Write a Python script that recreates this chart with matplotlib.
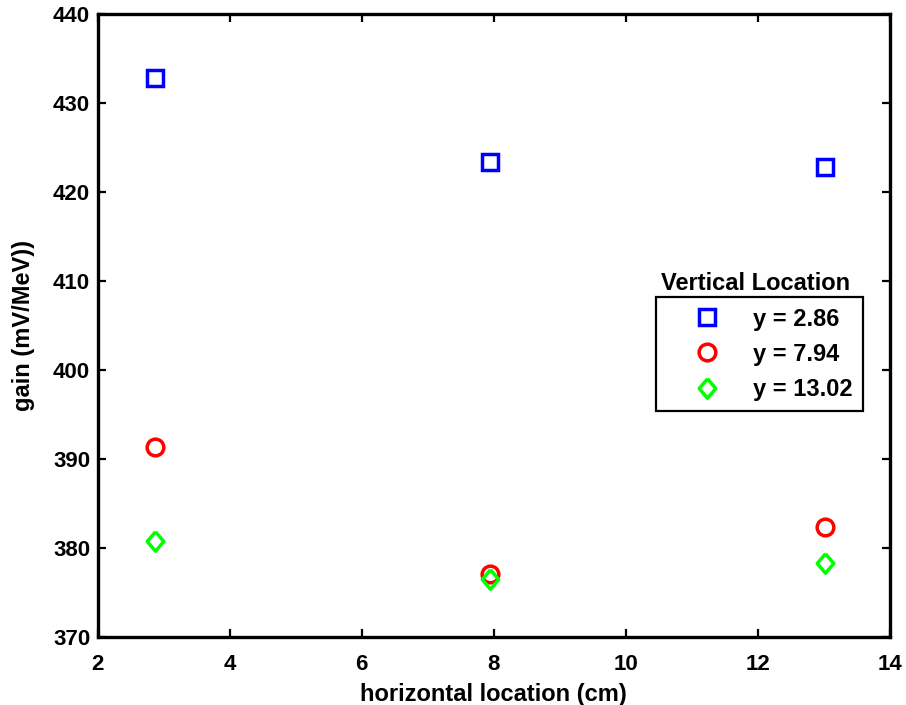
import matplotlib
matplotlib.use("Agg")
import matplotlib.pyplot as plt

# ---------------- data ----------------
x_pos = [2.86, 7.94, 13.02]          # horizontal location (cm)
gain_y286 = [432.8, 423.4, 422.8]    # y = 2.86
gain_y794 = [391.4, 377.1, 382.4]    # y = 7.94
gain_y1302 = [380.8, 376.5, 378.3]   # y = 13.02
series_labels = ["y = 2.86", "y = 7.94", "y = 13.02"]
x_ticks = [2, 4, 6, 8, 10, 12, 14]
y_ticks = [370, 380, 390, 400, 410, 420, 430, 440]

plt.rcParams["font.family"] = ["Liberation Sans", "DejaVu Sans"]
plt.rcParams["font.weight"] = "bold"
TICK_FS = 16
LABEL_FS = 17

# MATLAB-ish diamond (slightly taller than wide)
diamond = [(0, 1), (0.85, 0), (0, -1), (-0.85, 0), (0, 1)]

fig = plt.figure(figsize=(9.06, 7.05), dpi=100)
ax = fig.add_axes([0.108, 0.0965, 0.874, 0.8835])

mk = dict(linestyle="none", markerfacecolor="none", markeredgewidth=2.5)
ax.plot(x_pos, gain_y286, marker="s", markersize=12, markeredgecolor="#0000ff",
        label=series_labels[0], **mk)
ax.plot(x_pos, gain_y794, marker="o", markersize=12, markeredgecolor="#ff0000",
        label=series_labels[1], **mk)
ax.plot(x_pos, gain_y1302, marker=diamond, markersize=14, markeredgecolor="#00ff00",
        label=series_labels[2], **mk)

ax.set_xlim(2, 14)
ax.set_ylim(370, 440)
ax.set_xticks(x_ticks)
ax.set_yticks(y_ticks)
ax.tick_params(direction="in", length=6, width=1.6, labelsize=TICK_FS, top=True, right=True)
ax.tick_params(axis="x", pad=12)
ax.tick_params(axis="y", pad=5.5)
for lab in ax.get_xticklabels() + ax.get_yticklabels():
    lab.set_fontweight("bold")
for sp in ax.spines.values():
    sp.set_linewidth(2.4)

ax.set_xlabel("horizontal location (cm)", fontsize=LABEL_FS, fontweight="bold", labelpad=6)
ax.set_ylabel("gain (mV/MeV))", fontsize=LABEL_FS, fontweight="bold", labelpad=13)

leg = ax.legend(loc="upper left", bbox_to_anchor=(0.7045, 0.5457), fontsize=LABEL_FS,
                frameon=True, fancybox=False, edgecolor="black", framealpha=1,
                borderpad=0.45, labelspacing=0.51, handletextpad=0.2,
                handlelength=3.45, borderaxespad=0)
leg.get_frame().set_linewidth(1.6)
for t in leg.get_texts():
    t.set_fontweight("bold")

ax.text(0.831, 0.567, "Vertical Location", transform=ax.transAxes, fontsize=LABEL_FS,
        fontweight="bold", ha="center", va="center")

fig.savefig("out.png", dpi=100)
